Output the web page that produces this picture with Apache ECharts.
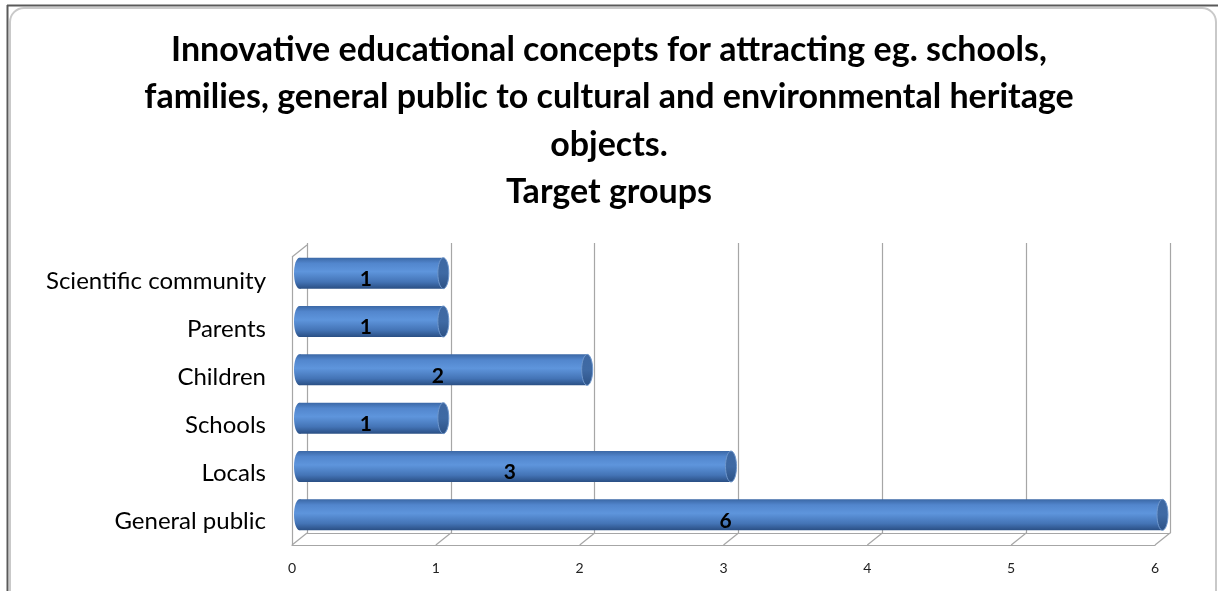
<!DOCTYPE html>
<html>
<head>
<meta charset="utf-8">
<script src="https://cdn.jsdelivr.net/npm/echarts@6/dist/echarts.min.js"></script>
<style>
  html, body { margin: 0; padding: 0; background: #ffffff; }
  #chart { width: 1218px; height: 591px; }
</style>
</head>
<body>
<div id="chart"></div>
<script>
// Target groups, listed top to bottom as they appear on the chart
const categories = ['Scientific community', 'Parents', 'Children', 'Schools', 'Locals', 'General public'];
const counts = [1, 1, 2, 1, 3, 6];
const tickValues = [0, 1, 2, 3, 4, 5, 6];

const titleLines = [
  'Innovative educational concepts for attracting eg. schools,',
  'families, general public to cultural and environmental heritage',
  'objects.',
  'Target groups'
];

// 3D depth offset between the front plane and the back wall
const DEPTH_X = 15, DEPTH_Y = -12;

const FONT = 'Lato, "Open Sans", sans-serif';
const GRID_COLOR = '#a6a6a6';

const chart = echarts.init(document.getElementById('chart'), null, { renderer: 'canvas' });

function cylinder(params, api) {
  const cat = api.value(0);
  const val = api.value(1);
  const start = api.coord([0, cat]);
  const end = api.coord([val, cat]);
  const h = api.size([0, 1])[1] * 0.64;
  const cy = start[1];
  const rx = 5.5;
  const body = new echarts.graphic.LinearGradient(0, 0, 0, 1, [
    { offset: 0, color: '#3b68a6' },
    { offset: 0.18, color: '#5286cd' },
    { offset: 0.45, color: '#5e95dc' },
    { offset: 0.78, color: '#4474b6' },
    { offset: 1, color: '#2a4f84' }
  ]);
  const cap = new echarts.graphic.LinearGradient(0, 0, 0, 1, [
    { offset: 0, color: '#3e68a2' },
    { offset: 0.5, color: '#3f6aa4' },
    { offset: 1, color: '#2c5185' }
  ]);
  return {
    type: 'group',
    children: [
      { type: 'ellipse', shape: { cx: start[0], cy: cy, rx: rx, ry: h / 2 }, style: { fill: body } },
      { type: 'rect', shape: { x: start[0], y: cy - h / 2, width: end[0] - start[0], height: h }, style: { fill: body } },
      { type: 'ellipse', shape: { cx: end[0], cy: cy, rx: rx, ry: h / 2 },
        style: { fill: cap, stroke: '#6f97cc', lineWidth: 1 } },
      { type: 'text', x: (start[0] + end[0]) / 2 - DEPTH_X * 0.5 + 2, y: cy - DEPTH_Y * 0.5,
        style: { text: String(val), fill: '#000', font: 'bold 21px ' + FONT, align: 'center', verticalAlign: 'middle' } }
    ]
  };
}

function floorLines(params, api) {
  const t = api.value(0);
  const cs = params.coordSys;
  const x = api.coord([t, categories[0]])[0];
  const bottom = cs.y + cs.height;
  const lineStyle = { stroke: GRID_COLOR, lineWidth: 1.2 };
  const children = [
    { type: 'line', shape: { x1: x, y1: bottom, x2: x + DEPTH_X, y2: bottom + DEPTH_Y }, style: lineStyle }
  ];
  if (t === 0) {
    children.push({ type: 'line', shape: { x1: x, y1: cs.y, x2: x + DEPTH_X, y2: cs.y + DEPTH_Y }, style: lineStyle });
  }
  return { type: 'group', children: children };
}

chart.setOption({
  backgroundColor: '#ffffff',
  animation: false,
  title: {
    text: titleLines.join('\n'),
    left: 'center',
    top: 21,
    textStyle: { fontFamily: FONT, fontSize: 34, fontWeight: 'bold', color: '#000', lineHeight: 47.5 }
  },
  graphic: [
    { type: 'rect', shape: { x: 10, y: 8, width: 1206, height: 596, r: 14 },
      style: { fill: 'none', stroke: '#c9c9c9', lineWidth: 2 }, silent: true },
    { type: 'line', shape: { x1: 7, y1: 5.5, x2: 1218, y2: 5.5 }, style: { stroke: '#5a5a5a', lineWidth: 2 } },
    { type: 'line', shape: { x1: 7.5, y1: 5, x2: 7.5, y2: 591 }, style: { stroke: '#5a5a5a', lineWidth: 2 } }
  ],
  grid: [
    // back wall
    { left: 307, right: 48, top: 243, bottom: 58 },
    // front plane: axis labels
    { left: 292, right: 63, top: 257, bottom: 46 },
    // cylinders, halfway through the depth
    { left: 299.5, right: 55.5, top: 249, bottom: 52 }
  ],
  xAxis: [
    { gridIndex: 0, type: 'value', min: 0, max: 6, interval: 1,
      axisLine: { show: true, lineStyle: { color: GRID_COLOR, width: 1.2 } },
      axisTick: { show: false }, axisLabel: { show: false },
      splitLine: { show: true, lineStyle: { color: GRID_COLOR, width: 1.2 } } },
    { gridIndex: 1, type: 'value', min: 0, max: 6, interval: 1,
      axisLine: { show: true, lineStyle: { color: GRID_COLOR, width: 1.2 } },
      axisTick: { show: false }, splitLine: { show: false },
      axisLabel: { show: true, margin: 16, fontFamily: FONT, fontSize: 14, color: '#222',
        formatter: v => tickValues.indexOf(v) >= 0 ? String(v) : '' } },
    { gridIndex: 2, type: 'value', min: 0, max: 6, interval: 1, show: false }
  ],
  yAxis: [
    { gridIndex: 0, type: 'category', data: categories, inverse: true, show: false },
    { gridIndex: 1, type: 'category', data: categories, inverse: true,
      axisLine: { show: true, lineStyle: { color: GRID_COLOR, width: 1.2 } },
      axisTick: { show: false },
      axisLabel: { margin: 26, fontFamily: FONT, fontSize: 24, color: '#000' } },
    { gridIndex: 2, type: 'category', data: categories, inverse: true, show: false }
  ],
  series: [
    { type: 'custom', xAxisIndex: 1, yAxisIndex: 1, renderItem: floorLines,
      data: tickValues.map(t => [t, categories[0]]), encode: { x: 0, y: 1 }, silent: true, z: 1 },
    { type: 'custom', xAxisIndex: 2, yAxisIndex: 2, renderItem: cylinder,
      data: categories.map((c, i) => [c, counts[i]]), encode: { y: 0, x: 1 }, z: 3 }
  ]
});
</script>
</body>
</html>
